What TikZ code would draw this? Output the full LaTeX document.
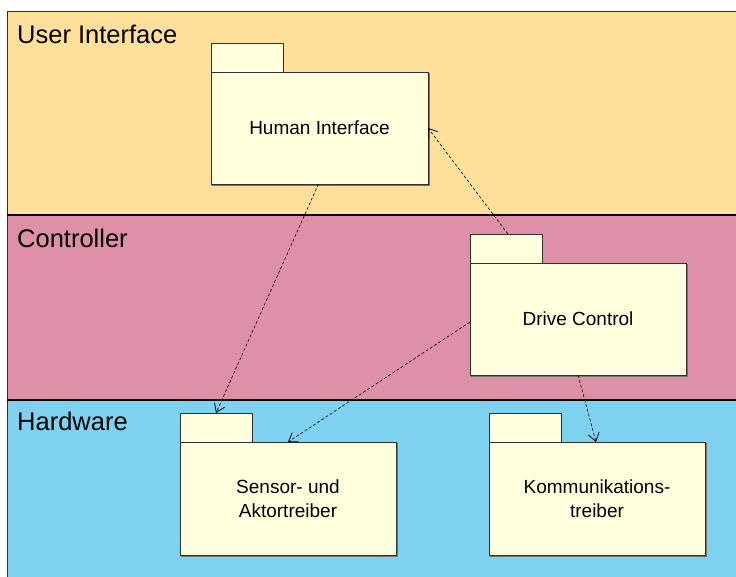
\documentclass[tikz,border=0pt]{standalone}
\usepackage{fontspec}
\setmainfont{Liberation Sans}
\usetikzlibrary{arrows.meta,calc}
\definecolor{uiband}{HTML}{FFDF9A}
\definecolor{ctband}{HTML}{DE90A8}
\definecolor{hwband}{HTML}{7ED1EF}
\definecolor{pkgfill}{HTML}{FFFFDE}
\definecolor{pkgline}{HTML}{303030}
\tikzset{
  band/.style={draw=pkgline, line width=0.8pt},
  bandtitle/.style={anchor=base west, inner sep=0pt, font=\fontsize{25.5}{30}\selectfont},
  pkgbody/.style={draw=pkgline, fill=pkgfill, line width=0.9pt, anchor=north west,
    minimum width=216pt, minimum height=112pt, inner sep=0pt, outer sep=0pt,
    align=center, font=\fontsize{19}{24}\selectfont,
    preaction={draw=black!55, line width=1.2pt, transform canvas={shift={(1.2pt,-1.2pt)}}}},
  pkgtab/.style={draw=pkgline, fill=pkgfill, line width=0.9pt, anchor=north west,
    minimum width=72pt, minimum height=29pt, inner sep=0pt, outer sep=0pt},
  dep/.style={draw=black, line width=0.6pt, dash pattern=on 3pt off 2pt,
    -{Straight Barb[length=8pt,width=11pt,line width=0.8pt]}}
}
\begin{document}
\begin{tikzpicture}[x=1pt,y=-1pt]
  \useasboundingbox (0,0) rectangle (736,576);
  % layer bands
  \path[band, fill=uiband] (7,11) rectangle (737,215);
  \path[band, fill=ctband] (7,215) rectangle (737,400);
  \path[band, fill=hwband] (7,400) rectangle (737,577);
  \draw[black, line width=1.4pt] (7,215) -- (737,215);
  \draw[black, line width=1.4pt] (7,400) -- (737,400);
  \node[bandtitle] (tui) at (17,43) {User Interface};
  \node[bandtitle] (tct) at (17,247) {Controller};
  \node[bandtitle] (thw) at (17,430) {Hardware};
  % packages
  \node[pkgtab] (hitab) at (211,43) {};
  \node[pkgbody, minimum width=217pt] (hi) at (211,72) {Human Interface};
  \node[pkgtab] (dctab) at (470,234) {};
  \node[pkgbody] (dc) at (470,263) {Drive Control};
  \node[pkgtab] (satab) at (180,413) {};
  \node[pkgbody, minimum height=113pt] (sa) at (180,442) {Sensor- und\\Aktortreiber};
  \node[pkgtab] (kttab) at (489,413) {};
  \node[pkgbody, minimum height=113pt] (kt) at (489,442) {Kommunikations-\\treiber};
  % dependencies
  \draw[dep] ($(hi.south)+(-1,0)$) -- (satab.north);
  \draw[dep] ($(dctab.north)+(2,0)$) -- (hi.east);
  \draw[dep] ($(dc.west)+(0,3)$) -- (sa.north);
  \draw[dep] (dc.south) -- ($(kt.north)+(-1,0)$);
\end{tikzpicture}
\end{document}
